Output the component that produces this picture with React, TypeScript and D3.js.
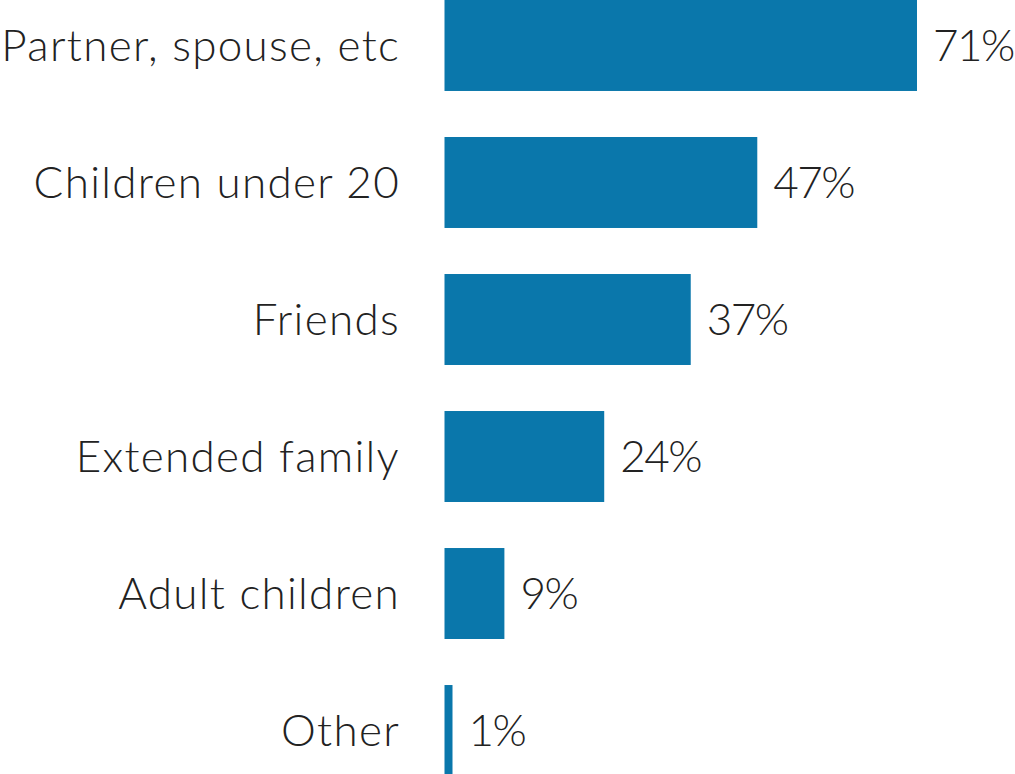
import React from "react";
import * as d3 from "d3";

const categories = ["Partner, spouse, etc", "Children under 20", "Friends", "Extended family", "Adult children", "Other"];
const values = [71, 47, 37, 24, 9, 1];

const W = 1015;
const H = 774;

export default function App() {
  const x = d3.scaleLinear().domain([0, 71]).range([444.5, 917]);
  const y = d3.scaleBand<string>().domain(categories).range([0, 776]).paddingInner(0.336).paddingOuter(0);
  const font = "Lato, 'Noto Sans', sans-serif";
  return (
    <svg width={W} height={H} style={{ position: "absolute", left: 0, top: 0, background: "#fff" }}>
      {categories.map((c, i) => {
        const y0 = y(c) as number;
        const bw = y.bandwidth();
        const w = Math.max(x(values[i]) - x(0), 8);
        return (
          <g key={c}>
            <rect x={x(0)} y={y0} width={w} height={bw} fill="#0a77ab" />
            <text x={400} y={y0 + bw / 2} dy="0.35em" textAnchor="end" fontFamily={font} fontSize={44} fill="#222" fontWeight={300} letterSpacing={1.3}>
              {c}
            </text>
            <text x={x(0) + w + 16} y={y0 + bw / 2} dy="0.35em" textAnchor="start" fontFamily={font} fontSize={44} fill="#222" fontWeight={300} letterSpacing={-1.5}>
              {values[i]}%
            </text>
          </g>
        );
      })}
    </svg>
  );
}
